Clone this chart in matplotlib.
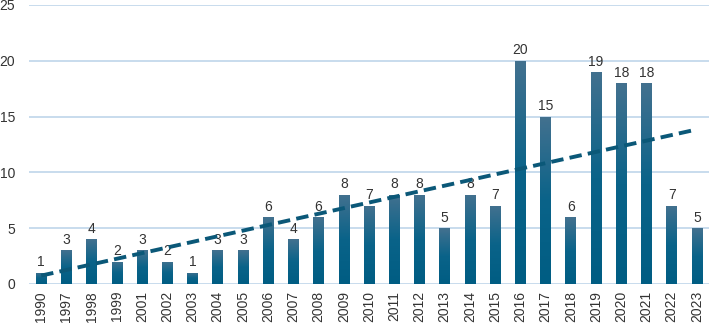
import numpy as np
import matplotlib
matplotlib.use("Agg")
import matplotlib.pyplot as plt
from matplotlib.colors import LinearSegmentedColormap

years = ["1990", "1997", "1998", "1999", "2001", "2002", "2003", "2004", "2005",
         "2006", "2007", "2008", "2009", "2010", "2011", "2012", "2013", "2014",
         "2015", "2016", "2017", "2018", "2019", "2020", "2021", "2022", "2023"]
counts = [1, 3, 4, 2, 3, 2, 1, 3, 3, 6, 4, 6, 8, 7, 8, 8, 5, 8, 7, 20, 15, 6,
          19, 18, 18, 7, 5]

plt.rcParams["font.family"] = ["Liberation Sans", "DejaVu Sans"]

fig = plt.figure(figsize=(7.09, 3.24), dpi=100)
ax = fig.add_axes([0.041, 0.1235, 0.959, 0.8615])

x = np.arange(len(years))
bars = ax.bar(x, counts, width=0.42, color="#1f6a8c", zorder=2)

# vertical gradient inside each bar, light at top, dark at bottom
cmap = LinearSegmentedColormap.from_list("barfade", ["#005d83", "#0a6389", "#43718f"])
grad = np.linspace(0, 1, 256).reshape(-1, 1)
for b in bars:
    x0, y0 = b.get_x(), b.get_y()
    im = ax.imshow(grad, cmap=cmap, origin="lower", aspect="auto",
                   extent=(x0, x0 + b.get_width(), y0, y0 + b.get_height()),
                   zorder=3)
    im.set_clip_path(b)

for xi, c in zip(x, counts):
    ax.text(xi, c + 0.3, str(c), ha="center", va="bottom", fontsize=10,
            color="#333333", zorder=4)

# linear trend
k, b0 = np.polyfit(x, counts, 1)
ax.plot(x, k * x + b0, color="#0b5878", lw=2.8, ls=(0, (3.2, 1.6)), zorder=5)

ax.set_xlim(-0.48, len(years) - 0.52)
ax.set_ylim(0, 25)
ax.set_yticks(range(0, 26, 5))
ax.set_xticks(x)
ax.set_xticklabels(years, rotation=90)
ax.grid(axis="y", color="#bfd5ea", lw=1.2, zorder=0)
ax.set_axisbelow(True)
for s in ax.spines.values():
    s.set_visible(False)
ax.tick_params(length=0, labelsize=10, colors="#333333")
ax.tick_params(axis="y", pad=10)
ax.tick_params(axis="x", pad=5)

fig.savefig("out.png", dpi=100)
